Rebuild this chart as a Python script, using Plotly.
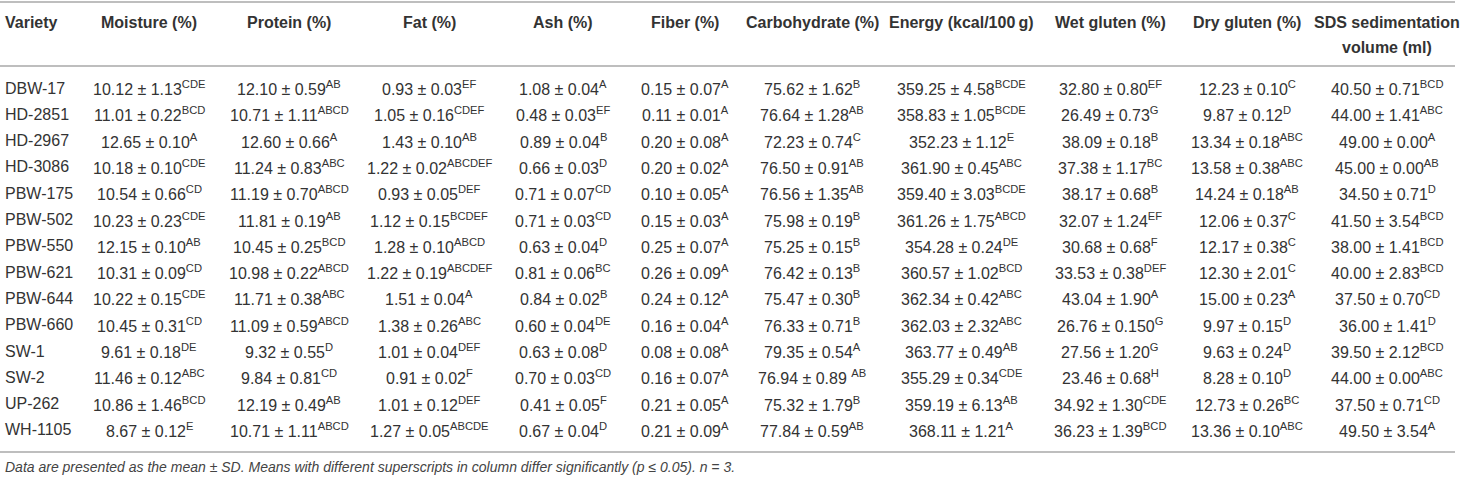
import plotly.graph_objects as go

# Table values (mean ± SD) and significance letters per column
varieties = ["DBW-17", "HD-2851", "HD-2967", "HD-3086", "PBW-175", "PBW-502", "PBW-550",
             "PBW-621", "PBW-644", "PBW-660", "SW-1", "SW-2", "UP-262", "WH-1105"]

headers = ["Variety", "Moisture (%)", "Protein (%)", "Fat (%)", "Ash (%)", "Fiber (%)",
           "Carbohydrate (%)", "Energy (kcal/100\u2009g)", "Wet gluten (%)", "Dry gluten (%)",
           "SDS sedimentation<br>volume (ml)"]

moisture = ["10.12 ± 1.13", "11.01 ± 0.22", "12.65 ± 0.10", "10.18 ± 0.10", "10.54 ± 0.66",
            "10.23 ± 0.23", "12.15 ± 0.10", "10.31 ± 0.09", "10.22 ± 0.15", "10.45 ± 0.31",
            "9.61 ± 0.18", "11.46 ± 0.12", "10.86 ± 1.46", "8.67 ± 0.12"]
moisture_sig = ["CDE", "BCD", "A", "CDE", "CD", "CDE", "AB", "CD", "CDE", "CD", "DE", "ABC", "BCD", "E"]

protein = ["12.10 ± 0.59", "10.71 ± 1.11", "12.60 ± 0.66", "11.24 ± 0.83", "11.19 ± 0.70",
           "11.81 ± 0.19", "10.45 ± 0.25", "10.98 ± 0.22", "11.71 ± 0.38", "11.09 ± 0.59",
           "9.32 ± 0.55", "9.84 ± 0.81", "12.19 ± 0.49", "10.71 ± 1.11"]
protein_sig = ["AB", "ABCD", "A", "ABC", "ABCD", "AB", "BCD", "ABCD", "ABC", "ABCD", "D", "CD", "AB", "ABCD"]

fat = ["0.93 ± 0.03", "1.05 ± 0.16", "1.43 ± 0.10", "1.22 ± 0.02", "0.93 ± 0.05",
       "1.12 ± 0.15", "1.28 ± 0.10", "1.22 ± 0.19", "1.51 ± 0.04", "1.38 ± 0.26",
       "1.01 ± 0.04", "0.91 ± 0.02", "1.01 ± 0.12", "1.27 ± 0.05"]
fat_sig = ["EF", "CDEF", "AB", "ABCDEF", "DEF", "BCDEF", "ABCD", "ABCDEF", "A", "ABC", "DEF", "F", "DEF", "ABCDE"]

ash = ["1.08 ± 0.04", "0.48 ± 0.03", "0.89 ± 0.04", "0.66 ± 0.03", "0.71 ± 0.07",
       "0.71 ± 0.03", "0.63 ± 0.04", "0.81 ± 0.06", "0.84 ± 0.02", "0.60 ± 0.04",
       "0.63 ± 0.08", "0.70 ± 0.03", "0.41 ± 0.05", "0.67 ± 0.04"]
ash_sig = ["A", "EF", "B", "D", "CD", "CD", "D", "BC", "B", "DE", "D", "CD", "F", "D"]

fiber = ["0.15 ± 0.07", "0.11 ± 0.01", "0.20 ± 0.08", "0.20 ± 0.02", "0.10 ± 0.05",
         "0.15 ± 0.03", "0.25 ± 0.07", "0.26 ± 0.09", "0.24 ± 0.12", "0.16 ± 0.04",
         "0.08 ± 0.08", "0.16 ± 0.07", "0.21 ± 0.05", "0.21 ± 0.09"]
fiber_sig = ["A"] * 14

carbohydrate = ["75.62 ± 1.62", "76.64 ± 1.28", "72.23 ± 0.74", "76.50 ± 0.91", "76.56 ± 1.35",
                "75.98 ± 0.19", "75.25 ± 0.15", "76.42 ± 0.13", "75.47 ± 0.30", "76.33 ± 0.71",
                "79.35 ± 0.54", "76.94 ± 0.89 ", "75.32 ± 1.79", "77.84 ± 0.59"]
carbohydrate_sig = ["B", "AB", "C", "AB", "AB", "B", "B", "B", "B", "B", "A", "AB", "B", "AB"]

energy = ["359.25 ± 4.58", "358.83 ± 1.05", "352.23 ± 1.12", "361.90 ± 0.45", "359.40 ± 3.03",
          "361.26 ± 1.75", "354.28 ± 0.24", "360.57 ± 1.02", "362.34 ± 0.42", "362.03 ± 2.32",
          "363.77 ± 0.49", "355.29 ± 0.34", "359.19 ± 6.13", "368.11 ± 1.21"]
energy_sig = ["BCDE", "BCDE", "E", "ABC", "BCDE", "ABCD", "DE", "BCD", "ABC", "ABC", "AB", "CDE", "AB", "A"]

wet_gluten = ["32.80 ± 0.80", "26.49 ± 0.73", "38.09 ± 0.18", "37.38 ± 1.17", "38.17 ± 0.68",
              "32.07 ± 1.24", "30.68 ± 0.68", "33.53 ± 0.38", "43.04 ± 1.90", "26.76 ± 0.150",
              "27.56 ± 1.20", "23.46 ± 0.68", "34.92 ± 1.30", "36.23 ± 1.39"]
wet_gluten_sig = ["EF", "G", "B", "BC", "B", "EF", "F", "DEF", "A", "G", "G", "H", "CDE", "BCD"]

dry_gluten = ["12.23 ± 0.10", "9.87 ± 0.12", "13.34 ± 0.18", "13.58 ± 0.38", "14.24 ± 0.18",
              "12.06 ± 0.37", "12.17 ± 0.38", "12.30 ± 2.01", "15.00 ± 0.23", "9.97 ± 0.15",
              "9.63 ± 0.24", "8.28 ± 0.10", "12.73 ± 0.26", "13.36 ± 0.10"]
dry_gluten_sig = ["C", "D", "ABC", "ABC", "AB", "C", "C", "C", "A", "D", "D", "D", "BC", "ABC"]

sds = ["40.50 ± 0.71", "44.00 ± 1.41", "49.00 ± 0.00", "45.00 ± 0.00", "34.50 ± 0.71",
       "41.50 ± 3.54", "38.00 ± 1.41", "40.00 ± 2.83", "37.50 ± 0.70", "36.00 ± 1.41",
       "39.50 ± 2.12", "44.00 ± 0.00", "37.50 ± 0.71", "49.50 ± 3.54"]
sds_sig = ["BCD", "ABC", "A", "AB", "D", "BCD", "BCD", "BCD", "CD", "D", "BCD", "ABC", "CD", "A"]

footnote = ("Data are presented as the mean ± SD. Means with different superscripts in column "
            "differ significantly (p ≤ 0.05). n = 3.")

columns = [(moisture, moisture_sig), (protein, protein_sig), (fat, fat_sig), (ash, ash_sig),
           (fiber, fiber_sig), (carbohydrate, carbohydrate_sig), (energy, energy_sig),
           (wet_gluten, wet_gluten_sig), (dry_gluten, dry_gluten_sig), (sds, sds_sig)]

# layout (pixels)
W, H = 1463, 479
col_x = [149, 289, 429, 563, 685, 812, 961, 1110, 1247, 1387]
row0_y, row_step = 88, 26.3
header_y, header_step = 22, 25
text_color = "#333333"
rule_color = "#a8a8a8"
font = "Liberation Sans, Arial, Helvetica, sans-serif"
body_size = 16

fig = go.Figure()

ann = []
# header (multi-line headers are split into separate lines)
ann.append(dict(x=3, y=header_y, text="<b>" + headers[0] + "</b>", xanchor="left"))
for cx, h in zip(col_x, headers[1:]):
    for k, line in enumerate(h.split("<br>")):
        ann.append(dict(x=cx, y=header_y + k * header_step, text="<b>" + line + "</b>",
                        xanchor="center"))

# body
for i, v in enumerate(varieties):
    y = row0_y + i * row_step
    ann.append(dict(x=3, y=y, text=v, xanchor="left"))
    for cx, (vals, sig) in zip(col_x, columns):
        ann.append(dict(x=cx, y=y, text=f"{vals[i]}<sup>{sig[i]}</sup>", xanchor="center"))

ann.append(dict(x=3, y=467, text="<i>" + footnote + "</i>", xanchor="left",
                font=dict(size=14, color="#444444", family=font)))

for a in ann:
    a.update(xref="x", yref="y", showarrow=False, yanchor="middle", align="center")
    a.setdefault("font", dict(size=body_size, color=text_color, family=font))

rules = [2, 66, 452]
shapes = [dict(type="line", xref="x", yref="y", x0=0, x1=1455, y0=r, y1=r,
               line=dict(color=rule_color, width=1.5)) for r in rules]

fig.update_layout(
    width=W, height=H,
    margin=dict(l=0, r=0, t=0, b=0),
    paper_bgcolor="white", plot_bgcolor="white",
    xaxis=dict(range=[0, W], visible=False, fixedrange=True),
    yaxis=dict(range=[H, 0], visible=False, fixedrange=True),
    annotations=ann, shapes=shapes, showlegend=False,
)

fig.write_html("out.html", config={"displayModeBar": False},
               post_script="document.body.style.margin='0px';document.body.style.overflow='hidden';")
